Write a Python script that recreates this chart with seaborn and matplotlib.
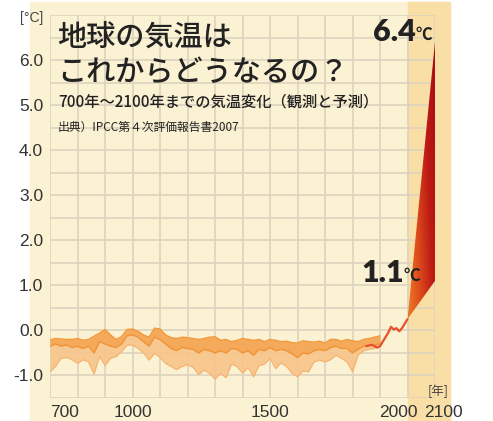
import numpy as np
import seaborn as sns
import matplotlib
matplotlib.use("Agg")
from matplotlib import pyplot as plt
from matplotlib.patches import Rectangle
from matplotlib.colors import LinearSegmentedColormap
from matplotlib.ticker import MultipleLocator
from matplotlib.transforms import ScaledTranslation

# reconstructions 700-1900, every 20 years
years = list(range(700, 1901, 20))
recon_upper = [-0.21, -0.18, -0.19, -0.20, -0.20, -0.18, -0.22, -0.20, -0.13, -0.06,
               0.02, -0.10, -0.20, -0.14, 0.02, 0.03, -0.02, -0.10, -0.15, 0.05,
               0.03, -0.10, -0.16, -0.18, -0.15, -0.16, -0.18, -0.20, -0.18, -0.15,
               -0.14, -0.22, -0.20, -0.25, -0.22, -0.18, -0.20, -0.22, -0.20, -0.25,
               -0.20, -0.22, -0.25, -0.24, -0.27, -0.28, -0.23, -0.25, -0.26, -0.24,
               -0.28, -0.20, -0.20, -0.24, -0.20, -0.23, -0.25, -0.20, -0.18, -0.15,
               -0.12]
recon_mid = [-0.35, -0.30, -0.35, -0.32, -0.38, -0.35, -0.40, -0.35, -0.50, -0.25,
             -0.30, -0.35, -0.38, -0.30, -0.12, -0.10, -0.15, -0.25, -0.35, -0.15,
             -0.20, -0.30, -0.40, -0.45, -0.38, -0.40, -0.42, -0.50, -0.42, -0.45,
             -0.50, -0.45, -0.50, -0.40, -0.42, -0.50, -0.45, -0.55, -0.42, -0.45,
             -0.38, -0.45, -0.42, -0.45, -0.52, -0.60, -0.50, -0.52, -0.45, -0.42,
             -0.45, -0.38, -0.35, -0.40, -0.40, -0.50, -0.42, -0.35, -0.33, -0.32,
             -0.30]
recon_lower = [-0.92, -0.80, -0.62, -0.60, -0.65, -0.73, -0.65, -0.70, -0.97, -0.58,
               -0.78, -0.62, -0.58, -0.47, -0.33, -0.32, -0.40, -0.50, -0.66, -0.51,
               -0.60, -0.73, -0.80, -0.87, -0.80, -0.76, -0.82, -0.98, -0.88, -0.95,
               -1.08, -0.95, -1.05, -0.75, -0.80, -0.95, -0.82, -1.03, -0.78, -0.75,
               -0.62, -0.85, -0.72, -0.80, -0.95, -1.03, -0.90, -0.92, -0.70, -0.66,
               -0.70, -0.65, -0.55, -0.62, -0.70, -0.92, -0.55, -0.45, -0.42, -0.40,
               -0.35]

# observed
obs_years = [1850, 1870, 1890, 1900, 1910, 1920, 1930, 1940, 1950, 1960, 1970, 1980, 1990, 2000]
obs_temp = [-0.35, -0.32, -0.38, -0.35, -0.25, -0.15, -0.05, 0.08, 0.02, 0.05, -0.02, 0.05, 0.15, 0.25]

# projection
proj_years = [2000, 2100]
proj_low = [0.25, 1.1]
proj_high = [0.25, 6.4]

xtick_pos = [700, 1000, 1500, 2000, 2100]
ytick_pos = [-1, 0, 1, 2, 3, 4, 5, 6]

sns.set_theme(style="white")
plt.rcParams['font.family'] = ['Noto Sans CJK JP', 'DejaVu Sans']

W, H = 493, 421
fig = plt.figure(figsize=(W / 100, H / 100), dpi=100)
fig.patch.set_facecolor('white')

def fx(px):
    return px / W

def fy(py):
    return 1 - py / H

# backgrounds
fig.patches.append(Rectangle((fx(30), 0), fx(420), fy(2), transform=fig.transFigure,
                             color='#FBF1D3', zorder=-2))
fig.patches.append(Rectangle((fx(407.5), 0), fx(42.5), fy(2), transform=fig.transFigure,
                             color='#F9DEA6', zorder=-1))

ax = fig.add_axes([fx(50), fy(398), fx(385), (398 - 15) / H])
ax.set_facecolor('none')
ax.set_axisbelow(True)

ax.fill_between(years, recon_lower, recon_upper, color='#F8C48A', lw=0, alpha=0.9)
ax.fill_between(years, recon_mid, recon_upper, color='#F4A551', lw=0, alpha=0.85)
sns.lineplot(x=years, y=recon_upper, ax=ax, color='#F39838', lw=1.0)
sns.lineplot(x=years, y=recon_mid, ax=ax, color='#F09436', lw=1.0)
sns.lineplot(x=years, y=recon_lower, ax=ax, color='#F6B26E', lw=0.8)
sns.lineplot(x=obs_years, y=obs_temp, ax=ax, color='#E9502C', lw=1.6)

poly = ax.fill_between(proj_years, proj_low, proj_high, color='none', lw=0)
gx, gy = np.meshgrid(np.linspace(0, 1, 200), np.linspace(0, 1, 200))
grad = 0.7 * gx + 0.3 * gy
cmap = LinearSegmentedColormap.from_list('warm', ['#EE7A28', '#DC4A1C', '#BC1A14', '#A80C10'])
im = ax.imshow(grad, extent=[2000, 2100, proj_low[0], proj_high[1]], origin='lower',
               aspect='auto', cmap=cmap, zorder=3)
im.set_clip_path(poly.get_paths()[0], transform=ax.transData)

ax.set_xlim(700, 2100)
ax.set_ylim(-1.5, 7.0)
ax.set_xticks(xtick_pos)
ax.set_xticklabels([str(v) for v in xtick_pos])
ax.set_yticks(ytick_pos)
ax.set_yticklabels([f"{v:.1f}" for v in ytick_pos])
ax.xaxis.set_minor_locator(MultipleLocator(100))
ax.yaxis.set_minor_locator(MultipleLocator(0.5))
ax.grid(which='both', color='#DDD3BE', lw=1.2)
ax.tick_params(which='both', length=0, colors='#333333', labelsize=12.5)
ax.tick_params(axis='x', pad=5)
ax.tick_params(axis='y', pad=5)
for lab in ax.get_xticklabels() + ax.get_yticklabels():
    lab.set_family(['Liberation Sans', 'DejaVu Sans'])
for s in ax.spines.values():
    s.set_visible(False)

xl = ax.get_xticklabels()
xl[0].set_horizontalalignment('left')
xl[3].set_transform(xl[3].get_transform() + ScaledTranslation(-9 / 100, 0, fig.dpi_scale_trans))
xl[4].set_transform(xl[4].get_transform() + ScaledTranslation(8 / 100, 0, fig.dpi_scale_trans))

# texts
fig.text(fx(57), fy(37), '地球の気温は', fontsize=21, fontweight='medium', color='#222222', va='center')
fig.text(fx(57), fy(72), 'これからどうなるの？', fontsize=21, fontweight='medium', color='#222222', va='center')
fig.text(fx(58), fy(102), '700年〜2100年までの気温変化（観測と予測）', fontsize=11, fontweight='medium',
         color='#222222', va='center')
fig.text(fx(58), fy(127), '出典）IPCC第４次評価報告書2007', fontsize=8.5, color='#222222', va='center')

fig.text(fx(416), fy(32), '6.4', fontsize=22, fontweight='heavy', color='#222222', va='center', ha='right',
         family=['Lato', 'DejaVu Sans'])
fig.text(fx(415), fy(35), '℃', fontsize=12, fontweight='bold', color='#222222', va='center', ha='left')
fig.text(fx(404), fy(273), '1.1', fontsize=22, fontweight='heavy', color='#222222', va='center', ha='right',
         family=['Lato', 'DejaVu Sans'])
fig.text(fx(403), fy(276), '℃', fontsize=12, fontweight='bold', color='#222222', va='center', ha='left')

fig.text(fx(20), fy(18), '[°C]', fontsize=10, color='#444444', va='center', ha='left',
         family=['Liberation Sans', 'DejaVu Sans'])
fig.text(fx(449), fy(391), '[年]', fontsize=9, color='#444444', va='center', ha='right')

fig.savefig('out.png', dpi=100)
